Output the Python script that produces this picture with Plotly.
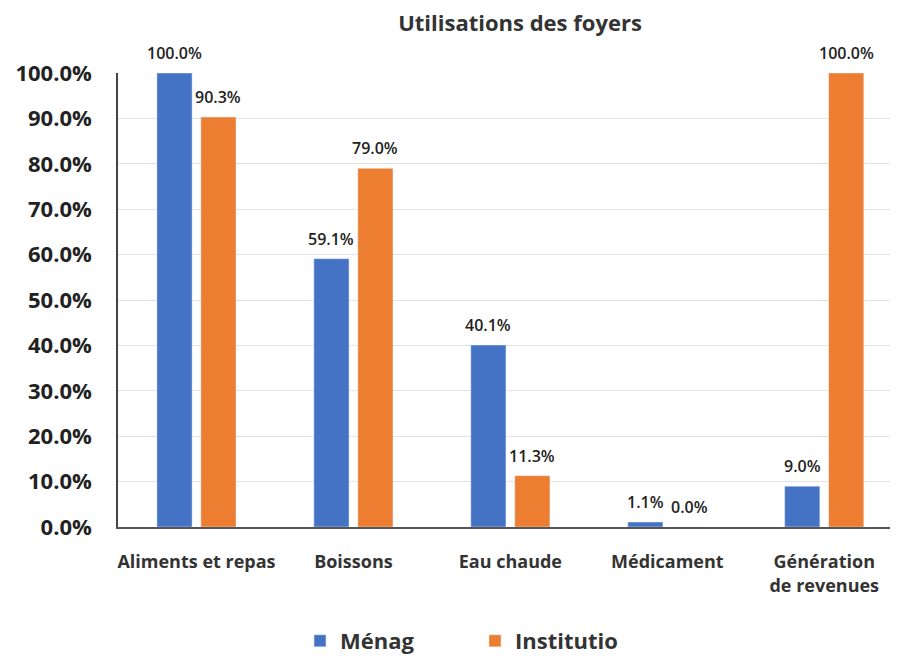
import plotly.graph_objects as go

categories = ["Aliments et repas", "Boissons", "Eau chaude", "Médicament", "Génération<br>de revenues"]
menag = [100.0, 59.1, 40.1, 1.1, 9.0]
institutio = [90.3, 79.0, 11.3, 0.0, 100.0]
series_names = ["Ménag", "Institutio"]
y_ticks = [0, 10, 20, 30, 40, 50, 60, 70, 80, 90, 100]

BLUE = "#4472C4"
ORANGE = "#ED7D31"
FONT = "Open Sans"
OFF = 8  # page body margin offset
W, H = 898 - OFF, 658 - OFF

fig = go.Figure()
fig.add_trace(go.Bar(x=categories, y=menag, name=series_names[0], marker_color=BLUE))
fig.add_trace(go.Bar(x=categories, y=institutio, name=series_names[1], marker_color=ORANGE))

annotations = []
for vals, shift in ((menag, -22), (institutio, 22)):
    for c, v in zip(categories, vals):
        annotations.append(dict(
            x=c, y=v, xref="x", yref="y", text=f"{v:.1f}%", showarrow=False,
            xshift=shift, yshift=7, yanchor="bottom",
            font=dict(family=FONT, size=16, color="#222222", weight=600),
        ))

fig.update_layout(
    width=W, height=H,
    margin=dict(l=118 - OFF, r=0, t=73 - OFF, b=658 - 527, autoexpand=False),
    paper_bgcolor="white", plot_bgcolor="white",
    barmode="group", bargap=0.44, bargroupgap=0.2,
    title=dict(text="<b>Utilisations des foyers</b>", x=(520 - OFF) / W, xanchor="center",
               y=1 - (23 - OFF) / H, yanchor="middle",
               font=dict(family=FONT, size=22, color="#333333")),
    xaxis=dict(range=[-0.5, 4.47], showgrid=False, showline=True, linecolor="#555555", linewidth=1.5,
               ticks="", ticklabelstandoff=18, automargin=False,
               tickfont=dict(family=FONT, size=18, color="#333333", weight="bold")),
    yaxis=dict(range=[0, 100], tickvals=y_ticks, ticktext=[f"{t:.1f}%" for t in y_ticks],
               showgrid=True, gridcolor="#e3e3e3", gridwidth=1, zeroline=False,
               showline=True, linecolor="#444444", linewidth=1.5, ticks="", ticklabelstandoff=20,
               automargin=False,
               tickfont=dict(family=FONT, size=22, color="#222222", weight="bold")),
    legend=dict(orientation="h", x=(300 - OFF) / W, xref="container", xanchor="left",
                y=1 - (641 - OFF) / H, yref="container", yanchor="middle",
                entrywidth=130, entrywidthmode="pixels",
                font=dict(family=FONT, size=22, color="#333333", weight="bold")),
    annotations=annotations,
    showlegend=True,
)

fig.write_html("out.html")
